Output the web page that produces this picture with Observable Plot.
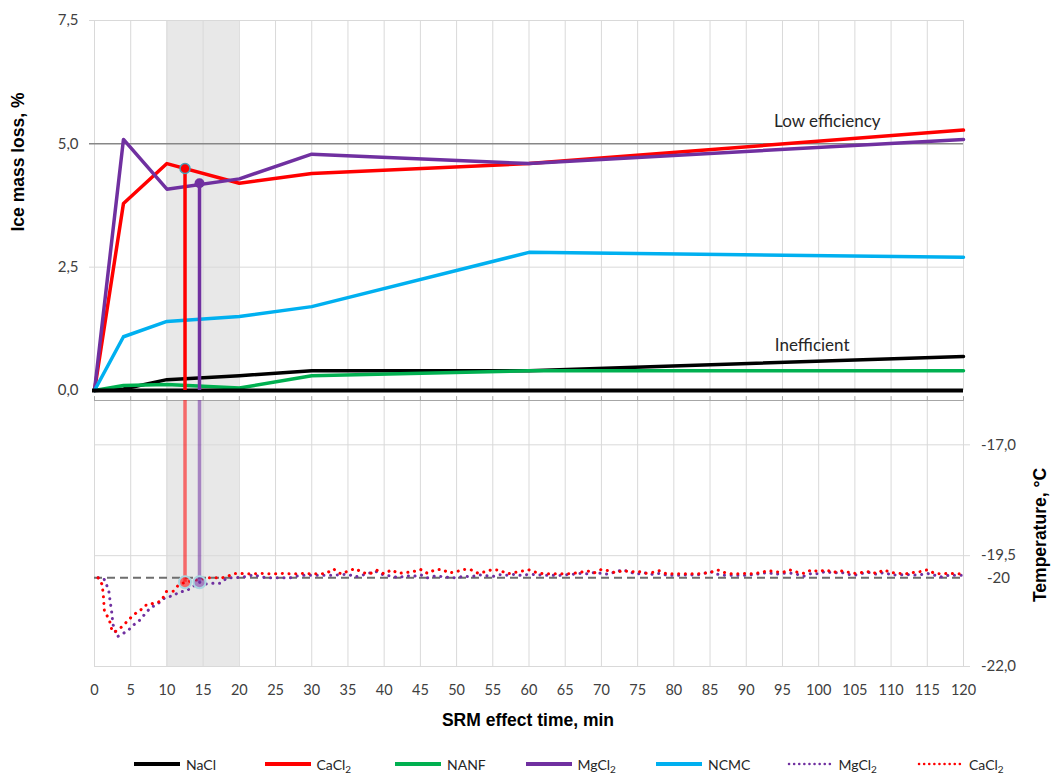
<!DOCTYPE html>
<html><head><meta charset="utf-8">
<script src="https://cdn.jsdelivr.net/npm/d3@7"></script>
<script src="https://cdn.jsdelivr.net/npm/@observablehq/plot@0.6"></script>
<style>
body{margin:0;background:#fff;}
#wrap{position:relative;width:1051px;height:776px;font-family:Lato,"Open Sans",sans-serif;overflow:hidden;}
#top,#bottom{position:absolute;left:0;}
#top{top:0}
#bottom{top:390px}
.ttl{position:absolute;font-family:"Liberation Sans",Arial,sans-serif;font-weight:bold;font-size:17.5px;color:#000;white-space:nowrap;}
.leg{position:absolute;top:755px;height:18px;display:flex;align-items:center;font-size:14px;color:#262626;white-space:nowrap;}
.leg svg{margin-right:4px;}
.leg sub{font-size:10px;vertical-align:-3px;line-height:0;}
</style></head>
<body>
<div id="wrap">
  <div id="top"></div>
  <div id="bottom"></div>
  <div class="ttl" style="left:18px;top:162px;transform:translate(-50%,-50%) rotate(-90deg)">Ice mass loss, %</div>
  <div class="ttl" style="left:1040px;top:535px;transform:translate(-50%,-50%) rotate(-90deg)">Temperature, °C</div>
  <div class="ttl" style="left:528px;top:720px;transform:translate(-50%,-50%)">SRM effect time, min</div>
  <div id="legend"></div>
</div>
<script>
// ---- data ----
const times = [0, 4, 10, 20, 30, 60, 120];
const nacl  = [0, 0.03, 0.22, 0.30, 0.40, 0.40, 0.69];
const cacl2 = [0, 3.79, 4.60, 4.20, 4.40, 4.60, 5.28];
const nanf  = [0, 0.10, 0.12, 0.05, 0.30, 0.40, 0.40];
const mgcl2 = [0, 5.09, 4.08, 4.29, 4.79, 4.60, 5.09];
const ncmc  = [0, 1.09, 1.40, 1.50, 1.70, 2.80, 2.70];

const seriesNames = ["NaCl", "CaCl2", "NANF", "MgCl2", "NCMC"];
const seriesColors = ["#000000", "#ff0000", "#00b050", "#7030a0", "#00b0f0"];

const xTicks = d3.range(0, 121, 5);
const lossTicks = [0, 2.5, 5, 7.5];
const lossTickLabels = ["0,0", "2,5", "5,0", "7,5"];
const lossGrid = [2.5, 7.5];
const lowEfficiency = 5.0;
const inefficient = 0;
const shade = [10, 20];

const zoneLabels = ["Low efficiency", "Inefficient"];
const zoneLabelTime = [101.2, 99.1];
const zoneLabelLoss = [5.45, 0.91];

// phase-transition markers (CaCl2, MgCl2)
const dropNames = ["CaCl2", "MgCl2"];
const dropTimes = [12.5, 14.5];
const dropLoss = [4.5, 4.2];
const dropTemp = [-20.1, -20.1];
const dropColors = ["#ff0000", "#7030a0"];

const tempTicks = [-17, -19.5, -20, -22];
const tempTickLabels = ["-17,0", "-19,5", "-20", "-22,0"];
const tempGrid = [-17, -19.5, -22];
const tempRef = -20;

// temperature, MgCl2 (dotted purple)
const mgTempTimeEarly = [0.5, 1.3, 1.62, 1.97, 2.21, 2.35, 2.44, 2.53, 3.13, 3.9, 4.7, 5.3, 6.0, 7.0, 7.8, 8.5, 9.8, 11.0, 11.6, 12.6, 13.2, 14.5, 15.3, 16.5, 17.4, 18.3, 19.2];
const mgTempEarly = [-20.0, -20.02, -20.14, -20.29, -20.59, -20.74, -20.87, -21.04, -21.33, -21.26, -21.18, -21.07, -21.0, -20.81, -20.66, -20.62, -20.44, -20.40, -20.32, -20.30, -20.24, -20.10, -20.14, -20.12, -20.12, -20.00, -20.00];
const mgTempLate = [
  -19.99, -19.97, -19.93, -19.98, -20.00, -20.00, -20.00, -20.00, -19.96, -19.94,
  -19.94, -19.94, -19.94, -19.94, -19.93, -19.92, -19.98, -19.94, -19.89, -19.86,
  -19.94, -19.96, -20.00, -19.95, -19.97, -19.93, -20.00, -19.96, -19.97, -19.99,
  -20.00, -19.96, -19.98, -19.93, -19.95, -19.97, -19.93, -19.94, -19.92, -19.95,
  -19.92, -19.93, -19.94, -19.94, -19.95, -19.93, -19.92, -19.90, -19.91, -19.88,
  -19.90, -19.92, -19.86, -19.82, -19.88, -19.91, -19.89, -19.92, -19.90, -19.94,
  -19.94, -19.94, -19.93, -19.94, -19.91, -19.86, -19.92, -19.94, -19.94, -19.94,
  -19.94, -19.93, -19.90, -19.88, -19.92, -19.90, -19.89, -19.92, -19.96, -19.90,
  -19.91, -19.85, -19.90, -19.87, -19.92, -19.94, -19.90, -19.88, -19.92, -19.88,
  -19.93, -19.94, -19.92, -19.94, -19.93, -19.90, -19.94, -19.98, -19.94, -19.94,
  -19.94];

// temperature, CaCl2 (dotted red)
const caTempTimeEarly = [0.5, 1.06, 1.22, 1.38, 1.98, 2.21, 2.44, 2.89, 3.82, 4.4, 5.0, 5.7, 6.4, 7.0, 7.7, 8.1, 8.9, 9.3, 9.9, 10.9, 11.6, 12.5, 14.0, 15.8, 17.6, 18.5, 19.3];
const caTempEarly = [-20.0, -20.15, -20.40, -20.78, -20.91, -21.05, -21.21, -21.21, -21.10, -21.0, -20.9, -20.8, -20.72, -20.62, -20.61, -20.57, -20.54, -20.5, -20.31, -20.3, -20.16, -20.1, -20.05, -20.0, -20.0, -19.96, -19.9];
const caTempLate = [
  -19.90, -19.91, -19.91, -19.90, -19.91, -19.91, -19.90, -19.91, -19.91, -19.90,
  -19.91, -19.91, -19.90, -19.80, -19.91, -19.85, -19.79, -19.88, -19.91, -19.83,
  -19.91, -19.82, -19.90, -19.88, -19.86, -19.81, -19.90, -19.82, -19.81, -19.89,
  -19.86, -19.81, -19.82, -19.90, -19.86, -19.81, -19.83, -19.91, -19.88, -19.85,
  -19.82, -19.88, -19.91, -19.91, -19.91, -19.91, -19.90, -19.88, -19.84, -19.89,
  -19.81, -19.84, -19.89, -19.83, -19.87, -19.85, -19.90, -19.88, -19.84, -19.91,
  -19.91, -19.91, -19.91, -19.91, -19.90, -19.88, -19.82, -19.88, -19.91, -19.91,
  -19.90, -19.91, -19.88, -19.84, -19.86, -19.88, -19.82, -19.87, -19.90, -19.82,
  -19.86, -19.82, -19.88, -19.84, -19.87, -19.90, -19.88, -19.86, -19.90, -19.82,
  -19.88, -19.90, -19.91, -19.88, -19.86, -19.82, -19.90, -19.91, -19.90, -19.91,
  -19.91];
const lateTime = d3.range(20, 121);

// ---- build tables ----
const lossSeries = [nacl, cacl2, nanf, mgcl2, ncmc];
const lossRows = seriesNames.map((n, k) => times.map((t, i) => ({time: t, loss: lossSeries[k][i], name: n})));
const drops = dropNames.map((n, i) => ({name: n, time: dropTimes[i], loss: dropLoss[i], temp: dropTemp[i], color: dropColors[i]}));
const mgTemp = mgTempTimeEarly.map((t, i) => ({time: t, temp: mgTempEarly[i]}))
  .concat(lateTime.map((t, i) => ({time: t, temp: mgTempLate[i]})));
const caTemp = caTempTimeEarly.map((t, i) => ({time: t, temp: caTempEarly[i]}))
  .concat(lateTime.map((t, i) => ({time: t, temp: caTempLate[i]})));
const zones = zoneLabels.map((l, i) => ({label: l, time: zoneLabelTime[i], loss: zoneLabelLoss[i]}));

const grid = "#d9d9d9";

// ---- top panel ----
const topPlot = Plot.plot({
  width: 1051, height: 400,
  marginLeft: 94, marginRight: 88, marginTop: 20, marginBottom: 10,
  x: {domain: [0, 120], axis: null},
  y: {domain: [0, 7.5], axis: null},
  color: {type: "identity"},
  style: {fontFamily: "Lato, 'Open Sans', sans-serif", background: "transparent", color: "#404040", overflow: "visible"},
  marks: [
    Plot.rect([shade], {x1: d => d[0], x2: d => d[1], y1: () => 0, y2: () => 7.5, fill: "#e8e8e8"}),
    Plot.ruleX(xTicks, {x: d => d, y1: () => 0, y2: () => 7.5, stroke: grid, strokeWidth: 1}),
    Plot.ruleY(lossGrid, {y: d => d, stroke: grid, strokeWidth: 1, insetLeft: -5}),
    Plot.ruleY([lowEfficiency], {y: d => d, stroke: "#878787", strokeWidth: 1.5, insetLeft: -5}),
    Plot.text(lossTicks, {x: () => 0, y: d => d, text: (d, i) => lossTickLabels[i], dx: -16, textAnchor: "end", fontSize: 15, fill: "#404040"}),
    ...lossRows.map((rows, k) => Plot.line(rows, {x: "time", y: "loss", stroke: seriesColors[k], strokeWidth: 3.5, strokeLinejoin: "round"})),
    Plot.ruleY([inefficient], {y: d => d, stroke: "#000", strokeWidth: 4, insetLeft: -2}),
    Plot.ruleX(drops, {x: "time", y1: () => 0, y2: "loss", stroke: "color", strokeWidth: 3.5}),
    Plot.dot(drops, {x: "time", y: "loss", fill: "color", stroke: (d, i) => i === 0 ? "#4a9fb5" : "color", strokeWidth: 1.5, r: 5}),
    Plot.text(zones, {x: "time", y: "loss", text: "label", fontSize: 17, fill: "#262626"})
  ]
});
document.getElementById("top").appendChild(topPlot);

// ---- bottom panel ----
const dotted = {strokeWidth: 3, strokeDasharray: "0.1,6.6", strokeLinecap: "round", strokeLinejoin: "round"};
const bottomPlot = Plot.plot({
  width: 1051, height: 350,
  marginLeft: 94, marginRight: 88, marginTop: 10, marginBottom: 74,
  x: {domain: [0, 120], axis: null},
  y: {domain: [-22, -16], axis: null},
  color: {type: "identity"},
  style: {fontFamily: "Lato, 'Open Sans', sans-serif", background: "transparent", color: "#404040", overflow: "visible"},
  marks: [
    Plot.rect([shade], {x1: d => d[0], x2: d => d[1], y1: () => -22, y2: () => -16, fill: "#e8e8e8"}),
    Plot.ruleX(xTicks, {x: d => d, y1: () => -22, y2: () => -16, stroke: grid, strokeWidth: 1}),
    Plot.ruleY(tempGrid, {y: d => d, stroke: grid, strokeWidth: 1, insetRight: -7}),
    Plot.ruleY([-16], {y: d => d, stroke: "#a6a6a6", strokeWidth: 1.2}),
    Plot.vector(xTicks, {x: d => d, y: () => -16, length: 4, anchor: "start", rotate: 0, stroke: "#a6a6a6", strokeWidth: 1,
      shape: {draw(ctx, l) { ctx.moveTo(0, 0); ctx.lineTo(0, -l); }}}),
    Plot.ruleY([tempRef], {y: d => d, stroke: "#6e6e6e", strokeWidth: 2, strokeDasharray: "8,5"}),
    Plot.line(mgTemp, {x: "time", y: "temp", stroke: "#7030a0", ...dotted}),
    Plot.line(caTemp, {x: "time", y: "temp", stroke: "#ff0000", ...dotted}),
    Plot.ruleX(drops, {x: "time", y1: "temp", y2: () => -16, stroke: "color", strokeOpacity: 0.55, strokeWidth: 3.5}),
    Plot.dot(drops, {x: "time", y: "temp", fill: "color", fillOpacity: 0.55, stroke: "#a9d6e0", strokeWidth: 2, r: 6}),
    Plot.text(xTicks, {x: d => d, y: () => -22, text: d => String(d), dy: 24, fontSize: 14.5, fill: "#404040"}),
    Plot.text(tempTicks, {x: () => 120, y: d => d, text: (d, i) => tempTickLabels[i], dx: 35, textAnchor: "middle", fontSize: 15, fill: "#404040"})
  ]
});
document.getElementById("bottom").appendChild(bottomPlot);

// ---- legend ----
const legendItems = [
  {label: "NaCl", color: "#000000", dotted: false},
  {label: "CaCl<sub>2</sub>", color: "#ff0000", dotted: false},
  {label: "NANF", color: "#00b050", dotted: false},
  {label: "MgCl<sub>2</sub>", color: "#7030a0", dotted: false},
  {label: "NCMC", color: "#00b0f0", dotted: false},
  {label: "MgCl<sub>2</sub>", color: "#7030a0", dotted: true},
  {label: "CaCl<sub>2</sub>", color: "#ff0000", dotted: true}
];
const legend = document.getElementById("legend");
legendItems.forEach((it, i) => {
  const div = document.createElement("div");
  div.className = "leg";
  div.style.left = (134 + i * 130.5) + "px";
  const line = it.dotted
    ? `<line x1="2" y1="9" x2="44" y2="9" stroke="${it.color}" stroke-width="2.5" stroke-dasharray="0.1,5" stroke-linecap="round"/>`
    : `<line x1="0" y1="9" x2="46" y2="9" stroke="${it.color}" stroke-width="4"/>`;
  div.innerHTML = `<svg width="48" height="18">${line}</svg><span>${it.label}</span>`;
  legend.appendChild(div);
});
</script>
</body></html>
